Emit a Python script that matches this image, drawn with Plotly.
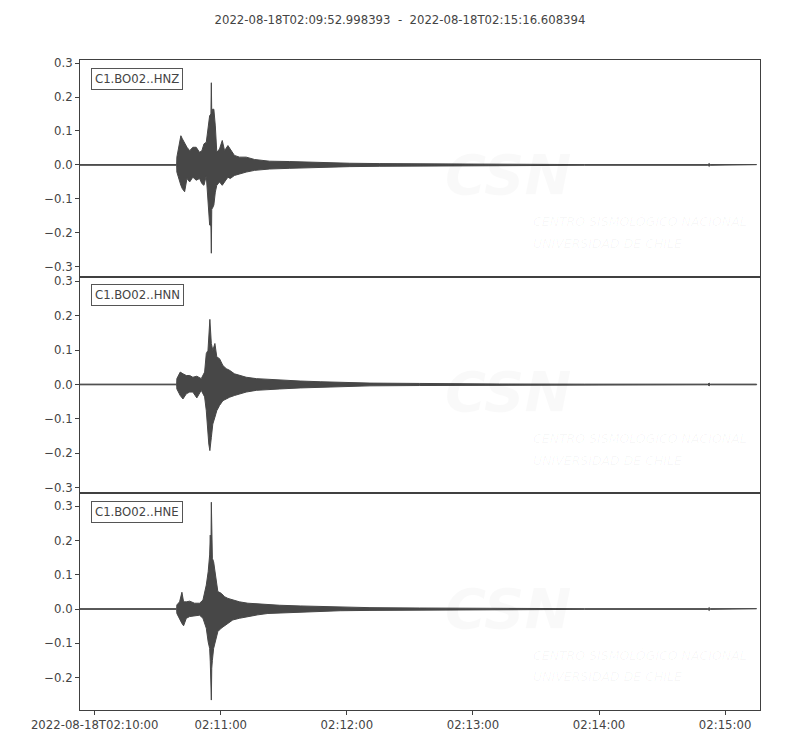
import pandas as pd
import plotly.graph_objects as go
from plotly.subplots import make_subplots

TITLE = "2022-08-18T02:09:52.998393  -  2022-08-18T02:15:16.608394"
START = "2022-08-18 02:09:52.998393"
END = "2022-08-18 02:15:16.608394"
CHANNELS = ["C1.BO02..HNZ", "C1.BO02..HNN", "C1.BO02..HNE"]

# envelope of each trace: seconds after START, upper and lower amplitude
T_HNZ = [0, 46.0, 46.1, 48.0, 48.7, 49.8, 50.9, 52.2, 53.7, 55.3, 56.9, 58.0, 59.0, 60.1, 60.9, 61.7,
         62.3, 62.5, 62.7, 63.0, 63.7, 64.4, 65.1, 66.4, 67.7, 68.8, 70.4, 71.5, 73.5, 75.9, 79.1, 83.1,
         87.0, 90.2, 99.6, 109.2, 118.7, 128.2, 142.4, 161.5, 180.5, 199.5, 240.0, 298.8, 299.4, 300.0, 322.0]
UP_HNZ = [0.001, 0.001, 0.023, 0.086, 0.077, 0.062, 0.052, 0.042, 0.052, 0.052, 0.037, 0.042, 0.062, 0.067,
          0.115, 0.145, 0.150, 0.242, 0.150, 0.164, 0.164, 0.115, 0.037, 0.047, 0.072, 0.042, 0.057, 0.047,
          0.028, 0.023, 0.023, 0.016, 0.013, 0.011, 0.010, 0.008, 0.006, 0.005, 0.004, 0.003, 0.002, 0.0015,
          0.001, 0.001, 0.004, 0.001, 0.001]
LO_HNZ = [-0.001, -0.001, -0.021, -0.060, -0.070, -0.079, -0.040, -0.050, -0.036, -0.045, -0.040, -0.055,
          -0.060, -0.032, -0.109, -0.177, -0.180, -0.260, -0.130, -0.128, -0.118, -0.080, -0.060, -0.050,
          -0.060, -0.050, -0.036, -0.040, -0.031, -0.026, -0.021, -0.016, -0.014, -0.012, -0.010, -0.008,
          -0.006, -0.005, -0.004, -0.003, -0.002, -0.0015, -0.001, -0.001, -0.004, -0.001, -0.001]

T_HNN = [0, 46.0, 46.1, 47.7, 49.0, 50.6, 52.2, 53.7, 55.6, 57.7, 59.3, 60.1, 60.9, 61.3, 61.8, 62.5,
         63.2, 64.2, 65.1, 66.4, 68.0, 69.6, 71.2, 73.5, 75.9, 79.1, 83.9, 88.6, 95.0, 104.8, 114.3, 123.8,
         138.0, 161.5, 180.5, 199.5, 240.0, 298.8, 299.4, 300.0, 322.0]
UP_HNN = [0.001, 0.001, 0.017, 0.036, 0.031, 0.026, 0.026, 0.021, 0.024, 0.017, 0.036, 0.090, 0.099,
          0.148, 0.189, 0.119, 0.099, 0.119, 0.080, 0.075, 0.055, 0.046, 0.041, 0.031, 0.026, 0.021, 0.017,
          0.015, 0.013, 0.010, 0.008, 0.006, 0.004, 0.003, 0.002, 0.0015, 0.001, 0.001, 0.004, 0.001, 0.001]
LO_HNN = [-0.001, -0.001, -0.013, -0.032, -0.042, -0.027, -0.022, -0.022, -0.039, -0.017, -0.036, -0.076,
          -0.134, -0.173, -0.192, -0.154, -0.115, -0.095, -0.076, -0.061, -0.047, -0.042, -0.037, -0.032,
          -0.027, -0.022, -0.017, -0.015, -0.013, -0.010, -0.008, -0.006, -0.004, -0.003, -0.002, -0.0015,
          -0.001, -0.001, -0.004, -0.001, -0.001]

T_HNE = [0, 46.0, 46.1, 47.4, 48.5, 49.3, 50.6, 52.2, 54.5, 56.9, 58.5, 60.1, 61.0, 61.7, 62.0, 62.3,
         62.5, 62.7, 63.0, 63.6, 64.4, 65.6, 67.2, 68.8, 70.4, 72.7, 75.9, 79.9, 84.6, 89.4, 95.0, 104.8,
         114.3, 123.8, 138.0, 161.5, 180.5, 199.5, 240.0, 298.8, 299.4, 300.0, 322.0]
UP_HNE = [0.001, 0.001, 0.012, 0.021, 0.049, 0.021, 0.021, 0.023, 0.017, 0.017, 0.026, 0.070, 0.109,
          0.158, 0.216, 0.160, 0.312, 0.160, 0.148, 0.138, 0.099, 0.051, 0.046, 0.036, 0.031, 0.026, 0.021,
          0.017, 0.015, 0.012, 0.011, 0.009, 0.007, 0.005, 0.004, 0.003, 0.002, 0.0015, 0.001, 0.001,
          0.004, 0.001, 0.001]
LO_HNE = [-0.001, -0.001, -0.013, -0.027, -0.042, -0.049, -0.027, -0.022, -0.020, -0.018, -0.027, -0.056,
          -0.096, -0.115, -0.154, -0.170, -0.266, -0.173, -0.150, -0.115, -0.096, -0.066, -0.056, -0.047,
          -0.042, -0.032, -0.027, -0.022, -0.017, -0.013, -0.011, -0.009, -0.007, -0.005, -0.004, -0.003,
          -0.002, -0.0015, -0.001, -0.001, -0.004, -0.001, -0.001]

Y_RANGES = [[-0.329, 0.309], [-0.316, 0.313], [-0.295, 0.338]]
TICK_TIMES = ["2022-08-18 02:10:00", "2022-08-18 02:11:00", "2022-08-18 02:12:00",
              "2022-08-18 02:13:00", "2022-08-18 02:14:00", "2022-08-18 02:15:00"]
TICK_TEXT = ["2022-08-18T02:10:00", "02:11:00", "02:12:00", "02:13:00", "02:14:00", "02:15:00"]

TRACES = [(T_HNZ, UP_HNZ, LO_HNZ), (T_HNN, UP_HNN, LO_HNN), (T_HNE, UP_HNE, LO_HNE)]

FONT = "DejaVu Sans"
WAVE = "#474747"
TXT = "#444444"
SPINE = "#404040"
MARK = "rgba(0,0,0,0.022)"
MARK_TXT = "rgba(0,0,0,0.035)"

fig = make_subplots(rows=3, cols=1, shared_xaxes=True, vertical_spacing=0)
start = pd.Timestamp(START)

for i, (t, up, lo) in enumerate(TRACES):
    assert len(t) == len(up) == len(lo)
    times = start + pd.to_timedelta(t, unit="s")
    xs = list(times) + list(times[::-1])
    ys = list(up) + list(lo[::-1])
    fig.add_trace(go.Scatter(x=xs, y=ys, mode="lines", fill="toself", fillcolor=WAVE,
                             line=dict(color=WAVE, width=1), hoverinfo="skip", showlegend=False),
                  row=i + 1, col=1)
    ax = "" if i == 0 else str(i + 1)
    # faint watermark
    fig.add_annotation(xref=f"x{ax} domain", yref=f"y{ax} domain", x=0.63, y=0.47,
                       text="<b><i>CSN</i></b>", showarrow=False,
                       font=dict(family=FONT, size=56, color=MARK))
    fig.add_annotation(xref=f"x{ax} domain", yref=f"y{ax} domain", x=0.663, y=0.21,
                       xanchor="left", text="<i>CENTRO SISMOLÓGICO NACIONAL</i>", showarrow=False,
                       font=dict(family=FONT, size=12.5, color=MARK_TXT))
    fig.add_annotation(xref=f"x{ax} domain", yref=f"y{ax} domain", x=0.663, y=0.11,
                       xanchor="left", text="<i>UNIVERSIDAD DE CHILE</i>", showarrow=False,
                       font=dict(family=FONT, size=12.5, color=MARK_TXT))
    # channel label
    fig.add_annotation(xref=f"x{ax} domain", yref=f"y{ax} domain", x=0.016, y=0.965,
                       xanchor="left", yanchor="top", text=CHANNELS[i], showarrow=False,
                       font=dict(family=FONT, size=11.7, color=TXT),
                       bordercolor="#555555", borderwidth=1, borderpad=3, bgcolor="white")
    fig.update_yaxes(range=Y_RANGES[i], dtick=0.1, tick0=0, tickformat=".1f",
                     showline=True, linecolor=SPINE, linewidth=1, mirror=True,
                     ticks="outside", ticklen=4, tickcolor=SPINE, showgrid=False, zeroline=False,
                     tickfont=dict(family=FONT, size=11.7, color=TXT), row=i + 1, col=1)
    fig.update_xaxes(type="date", range=[START, END], showline=True, linecolor=SPINE, linewidth=1,
                     mirror=True, showgrid=False, zeroline=False,
                     tickvals=TICK_TIMES, ticktext=TICK_TEXT,
                     ticks="outside" if i == 2 else "", ticklen=4, tickcolor=SPINE,
                     showticklabels=(i == 2),
                     tickfont=dict(family=FONT, size=11.7, color=TXT), row=i + 1, col=1)

fig.update_layout(
    width=800, height=750,
    margin=dict(l=80, r=40, t=60, b=40),
    paper_bgcolor="white", plot_bgcolor="white",
    title=dict(text=TITLE, x=0.5, xanchor="center", y=1 - 20 / 750, yanchor="middle",
               font=dict(family=FONT, size=11.7, color=TXT)),
    showlegend=False,
)

fig.write_html("out.html", config={"displayModeBar": False},
               post_script="document.body.style.margin='0';")
